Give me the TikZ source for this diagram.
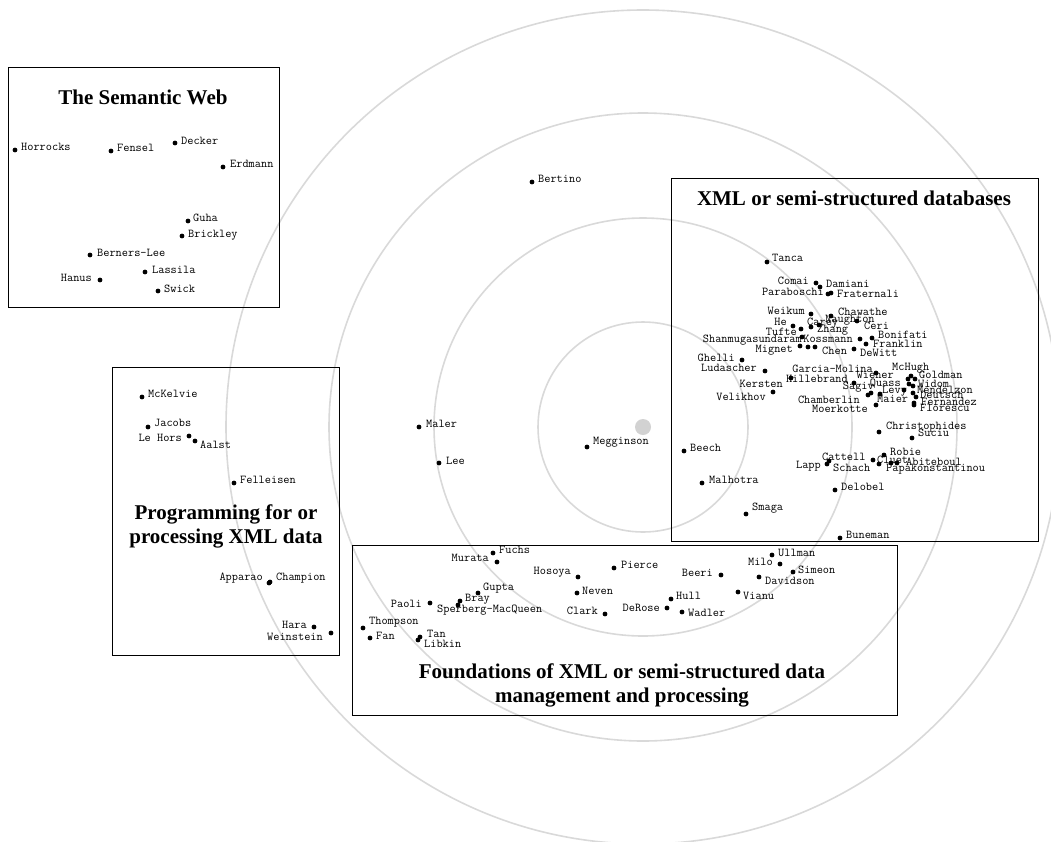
\documentclass[tikz,border=0pt]{standalone}
\usepackage{fontspec}
\newfontfamily\titlefont{Liberation Serif}
\usepackage{tikz}
\tikzset{
  dot/.style={circle, fill=black, inner sep=0pt, minimum size=4.8pt},
  who/.style={inner sep=0pt, font=\ttfamily\fontsize{12}{12}\selectfont},
  ring/.style={draw=gray!30, line width=1.6pt},
  area/.style={draw=black, line width=1.4pt, anchor=north west, inner sep=0pt},
  areatitle/.style={font=\titlefont\bfseries\fontsize{21}{24}\selectfont, align=center, inner sep=0pt}
}
% one researcher: name, dot, side of the label, label position, text
\newcommand{\pers}[5]{%
  \node[dot] (#1) at (#2) {};
  \node[who, anchor=#3] (#1-l) at (#4) {#5};}

\begin{document}
\begin{tikzpicture}[x=1pt, y=-1pt]
  \useasboundingbox (0,0) rectangle (1051,841);

  % rings round the centre
  \node[circle, fill=gray!35, minimum size=16pt, inner sep=0pt] (centre) at (643,427) {};
  \draw[ring] (centre.center) circle[radius=105pt];
  \draw[ring] (centre.center) circle[radius=209pt];
  \draw[ring] (centre.center) circle[radius=314pt];
  \draw[ring] (centre.center) circle[radius=417pt];

  % topic areas
  \node[area, minimum width=271pt, minimum height=240pt] (semweb) at (8,67) {};
  \node[areatitle] (semweb-t) at (143,97) {The Semantic Web};
  \node[area, minimum width=227pt, minimum height=288pt] (prog) at (112,367) {};
  \node[areatitle] (prog-t) at (226,526) {Programming for or\\processing XML data};
  \node[area, minimum width=367pt, minimum height=363pt] (xmldb) at (671,178) {};
  \node[areatitle] (xmldb-t) at (854,198) {XML or semi-structured databases};
  \node[area, minimum width=545pt, minimum height=170pt] (found) at (352,545) {};
  \node[areatitle] (found-t) at (622,685) {Foundations of XML or semi-structured data\\management and processing};

  % The Semantic Web
  \pers{horrocks}{15,150}{west}{21,147}{Horrocks}
  \pers{fensel}{111,151}{west}{117,148}{Fensel}
  \pers{decker}{175,143}{west}{181,141}{Decker}
  \pers{erdmann}{223,167}{west}{230,164}{Erdmann}
  \pers{guha}{188,221}{west}{193,218}{Guha}
  \pers{brickley}{182,236}{west}{188,235}{Brickley}
  \pers{bernerslee}{90,255}{west}{97,253}{Berners-Lee}
  \pers{lassila}{145,272}{west}{152,270}{Lassila}
  \pers{hanus}{100,280}{east}{92,278}{Hanus}
  \pers{swick}{158,291}{west}{164,289}{Swick}

  % Programming for or processing XML data
  \pers{mckelvie}{142,397}{west}{148,394}{McKelvie}
  \pers{jacobs}{148,427}{west}{154,423}{Jacobs}
  \pers{lehors}{189,436}{east}{182,438}{Le Hors}
  \pers{aalst}{195,441}{west}{200,445}{Aalst}
  \pers{felleisen}{234,483}{west}{240,480}{Felleisen}
  \pers{apparao}{269,583}{east}{263,578}{Apparao}
  \pers{champion}{270,582}{west}{276,578}{Champion}
  \pers{hara}{314,627}{east}{307,625}{Hara}
  \pers{weinstein}{331,633}{east}{323,637}{Weinstein}

  % between the areas
  \pers{bertino}{532,182}{west}{538,179}{Bertino}
  \pers{maler}{419,427}{west}{426,424}{Maler}
  \pers{lee}{439,463}{west}{446,461}{Lee}
  \pers{megginson}{587,447}{west}{593,442}{Megginson}

  % XML or semi-structured databases
  \pers{tanca}{767,262}{west}{772,258}{Tanca}
  \pers{comai}{816,283}{east}{809,281}{Comai}
  \pers{damiani}{820,287}{west}{826,284}{Damiani}
  \pers{paraboschi}{828,294}{east}{824,292}{Paraboschi}
  \pers{fraternali}{831,293}{west}{837,294}{Fraternali}
  \pers{weikum}{811,314}{east}{805,311}{Weikum}
  \pers{chawathe}{831,316}{west}{838,312}{Chawathe}
  \pers{naughton}{819,325}{west}{825,320}{Naughton}
  \pers{he}{793,326}{east}{787,322}{He}
  \pers{carey}{801,329}{west}{807,323}{Carey}
  \pers{ceri}{857,321}{west}{864,326}{Ceri}
  \pers{tufte}{802,337}{east}{797,332}{Tufte}
  \pers{zhang}{811,327}{west}{817,330}{Zhang}
  \pers{bonifati}{872,338}{west}{878,335}{Bonifati}
  \pers{shanmugasundaram}{808,347}{east}{802,340}{Shanmugasundaram}
  \pers{kossmann}{860,339}{east}{853,339}{Kossmann}
  \pers{franklin}{866,344}{west}{873,344}{Franklin}
  \pers{mignet}{800,346}{east}{793,350}{Mignet}
  \pers{chen}{815,347}{west}{822,351}{Chen}
  \pers{dewitt}{854,349}{west}{860,353}{DeWitt}
  \pers{ghelli}{742,360}{east}{735,358}{Ghelli}
  \pers{ludascher}{765,371}{east}{757,368}{Ludascher}
  \pers{garciamolina}{876,373}{east}{873,369}{Garcia-Molina}
  \pers{mchugh}{911,376}{west}{892,368}{McHugh}
  \pers{wiener}{908,379}{east}{894,375}{Wiener}
  \pers{goldman}{915,379}{west}{919,375}{Goldman}
  \pers{kersten}{791,378}{east}{783,384}{Kersten}
  \pers{hillebrand}{854,383}{east}{848,379}{Hillebrand}
  \pers{sagiv}{868,395}{east}{874,387}{Sagiv}
  \pers{quass}{909,384}{east}{901,384}{Quass}
  \pers{widom}{913,386}{west}{918,384}{Widom}
  \pers{levy}{904,390}{west}{882,391}{Levy}
  \pers{mendelzon}{913,393}{west}{917,390}{Mendelzon}
  \pers{velikhov}{773,392}{east}{766,397}{Velikhov}
  \pers{chamberlin}{871,393}{east}{860,400}{Chamberlin}
  \pers{maier}{880,394}{west}{877,399}{Maier}
  \pers{deutsch}{916,397}{west}{920,395}{Deutsch}
  \pers{fernandez}{914,403}{west}{921,402}{Fernandez}
  \pers{moerkotte}{876,405}{east}{868,409}{Moerkotte}
  \pers{florescu}{914,405}{west}{920,408}{Florescu}
  \pers{christophides}{879,432}{west}{886,427}{Christophides}
  \pers{suciu}{912,438}{west}{918,433}{Suciu}
  \pers{beech}{684,451}{west}{690,448}{Beech}
  \pers{robie}{884,455}{west}{890,452}{Robie}
  \pers{cattell}{829,461}{west}{822,457}{Cattell}
  \pers{cluet}{873,460}{west}{877,460}{Cluet}
  \pers{abiteboul}{897,463}{west}{906,462}{Abiteboul}
  \pers{lapp}{827,464}{east}{821,466}{Lapp}
  \pers{schach}{879,464}{west}{833,468}{Schach}
  \pers{papakonstantinou}{891,463}{west}{886,469}{Papakonstantinou}
  \pers{malhotra}{702,483}{west}{709,480}{Malhotra}
  \pers{delobel}{835,490}{west}{841,487}{Delobel}
  \pers{smaga}{746,514}{west}{752,508}{Smaga}
  \pers{buneman}{840,538}{west}{846,535}{Buneman}

  % Foundations of XML or semi-structured data
  \pers{fuchs}{493,553}{west}{499,550}{Fuchs}
  \pers{murata}{497,562}{east}{489,558}{Murata}
  \pers{hosoya}{578,577}{east}{571,572}{Hosoya}
  \pers{pierce}{614,568}{west}{621,565}{Pierce}
  \pers{beeri}{721,575}{east}{713,573}{Beeri}
  \pers{milo}{780,564}{east}{773,562}{Milo}
  \pers{ullman}{772,555}{west}{778,553}{Ullman}
  \pers{simeon}{793,572}{west}{798,570}{Simeon}
  \pers{davidson}{759,577}{west}{765,581}{Davidson}
  \pers{gupta}{478,593}{west}{483,588}{Gupta}
  \pers{bray}{460,601}{west}{465,599}{Bray}
  \pers{paoli}{430,603}{east}{422,604}{Paoli}
  \pers{sperberg}{458,605}{west}{437,610}{Sperberg-MacQueen}
  \pers{neven}{577,593}{west}{582,591}{Neven}
  \pers{clark}{605,614}{east}{598,611}{Clark}
  \pers{hull}{671,599}{west}{676,596}{Hull}
  \pers{derose}{667,608}{east}{660,608}{DeRose}
  \pers{wadler}{682,612}{west}{688,613}{Wadler}
  \pers{vianu}{738,592}{west}{743,596}{Vianu}
  \pers{thompson}{363,628}{west}{369,622}{Thompson}
  \pers{fan}{370,638}{west}{376,636}{Fan}
  \pers{tan}{420,637}{west}{427,634}{Tan}
  \pers{libkin}{418,640}{west}{424,644}{Libkin}
\end{tikzpicture}
\end{document}
